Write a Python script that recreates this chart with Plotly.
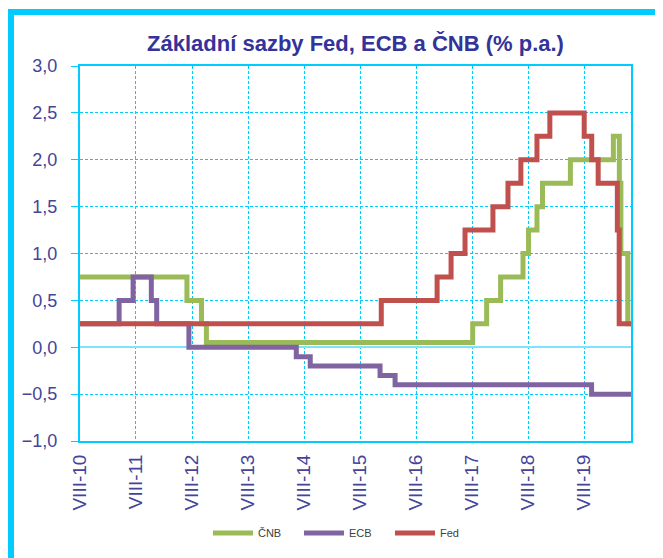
import plotly.graph_objects as go

# --- data (step-change dates and rates, % p.a.) ---
cnb_dates = ["2010-08-01", "2012-06-28", "2012-10-01", "2012-11-02", "2017-08-04",
             "2017-11-03", "2018-02-02", "2018-06-28", "2018-08-03", "2018-09-27",
             "2018-11-02", "2019-05-03", "2020-02-07", "2020-03-17", "2020-03-27",
             "2020-05-11", "2020-06-01"]
cnb_vals = [0.75, 0.50, 0.25, 0.05, 0.25, 0.50, 0.75, 1.00, 1.25, 1.50,
            1.75, 2.00, 2.25, 1.75, 1.00, 0.25, 0.25]

ecb_dates = ["2010-08-01", "2011-04-13", "2011-07-13", "2011-11-09", "2011-12-14",
             "2012-07-11", "2014-06-11", "2014-09-10", "2015-12-09", "2016-03-16",
             "2019-09-18", "2020-06-01"]
ecb_vals = [0.25, 0.50, 0.75, 0.50, 0.25, 0.00, -0.10, -0.20, -0.30, -0.40, -0.50, -0.50]

fed_dates = ["2010-08-01", "2015-12-17", "2016-12-15", "2017-03-16", "2017-06-15",
             "2017-12-14", "2018-03-22", "2018-06-14", "2018-09-27", "2018-12-20",
             "2019-08-01", "2019-09-19", "2019-10-31", "2020-03-04", "2020-03-16",
             "2020-06-01"]
fed_vals = [0.25, 0.50, 0.75, 1.00, 1.25, 1.50, 1.75, 2.00, 2.25, 2.50,
            2.25, 2.00, 1.75, 1.25, 0.25, 0.25]

tick_dates = ["2010-08-01", "2011-08-01", "2012-08-01", "2013-08-01", "2014-08-01",
              "2015-08-01", "2016-08-01", "2017-08-01", "2018-08-01", "2019-08-01"]
tick_labels = ["VIII-10", "VIII-11", "VIII-12", "VIII-13", "VIII-14",
               "VIII-15", "VIII-16", "VIII-17", "VIII-18", "VIII-19"]

series = [
    ("ČNB", cnb_dates, cnb_vals, "#9BBB59"),
    ("ECB", ecb_dates, ecb_vals, "#8064A2"),
    ("Fed", fed_dates, fed_vals, "#C0504D"),
]

CYAN = "#00CCFF"
LABEL = "#44449A"

fig = go.Figure()
for name, d, v, c in series:
    fig.add_trace(go.Scatter(x=d, y=v, name=name, mode="lines", line_shape="hv",
                             line=dict(color=c, width=5)))

# page body has an 8px margin, so the figure is laid out 8px in from top/left
OFF = 8
W, H = 663 - OFF, 558 - OFF
L, R, T, B = 80 - OFF, 32, 66 - OFF, 117
pw, ph = W - L - R, H - T - B

fig.update_layout(
    width=W, height=H,
    margin=dict(l=L, r=R, t=T, b=B, autoexpand=False),
    paper_bgcolor="white", plot_bgcolor="white",
    separators=", ",
    font=dict(family="Liberation Sans, Arial, sans-serif", color=LABEL),
    title=dict(text="<b>Základní sazby Fed, ECB a ČNB (% p.a.)</b>",
               x=0.5, xref="paper", xanchor="center",
               y=1 - (43 - OFF) / H, yref="container", yanchor="middle",
               font=dict(family="Liberation Sans Narrow, Arial Narrow, Liberation Sans, sans-serif",
                         size=22, color="#333399")),
    legend=dict(orientation="h", x=0.48, xanchor="center",
                y=(ph - (533 - 66)) / ph, yanchor="middle", yref="paper",
                font=dict(size=11, color="#404040"),
                entrywidth=36, entrywidthmode="pixels", itemwidth=40,
                bgcolor="rgba(0,0,0,0)"),
    showlegend=True,
)

fig.update_xaxes(
    type="date", range=["2010-08-01", "2020-06-01"],
    tickmode="array", tickvals=tick_dates, ticktext=tick_labels,
    tickangle=-90, tickfont=dict(size=19, color=LABEL), ticklabelstandoff=4,
    showgrid=True, gridcolor=CYAN, gridwidth=1, griddash="3px,2px",
    showline=True, linecolor=CYAN, linewidth=2, mirror=True,
    ticks="", zeroline=False,
)
fig.update_yaxes(
    range=[-1, 3], dtick=0.5, tick0=0, tickformat=".1f",
    tickfont=dict(size=18, color=LABEL), ticklabelstandoff=10,
    showgrid=True, gridcolor=CYAN, gridwidth=1, griddash="3px,2px",
    zeroline=True, zerolinecolor="#7FE3FF", zerolinewidth=2,
    showline=True, linecolor=CYAN, linewidth=2, mirror=True,
    ticks="outside", ticklen=7, tickcolor=CYAN, tickwidth=1,
)

# outer frame (partially cropped at right/bottom)
fig.add_shape(type="rect", xref="paper", yref="paper",
              x0=(11 - 80) / pw, x1=(663 + 20 - 80) / pw,
              y0=-(558 + 20 - 441) / ph, y1=1 + (66 - 12) / ph,
              line=dict(color=CYAN, width=6), fillcolor="rgba(0,0,0,0)")

fig.write_html("out.html")
